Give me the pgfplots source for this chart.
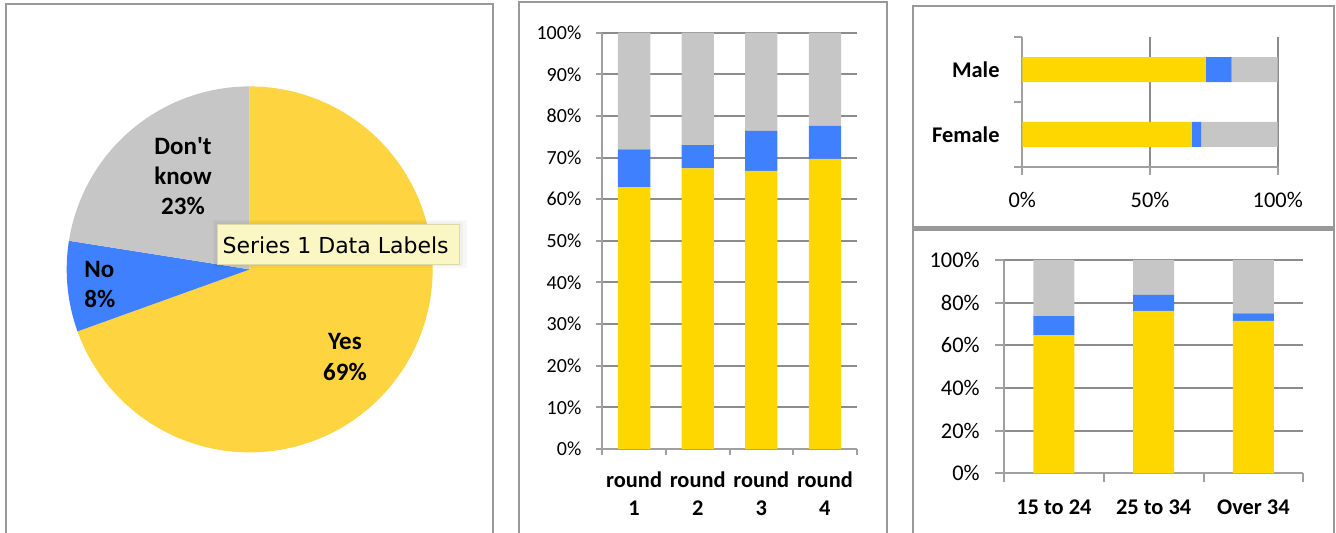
\documentclass[border=0pt]{standalone}
\usepackage{pgfplots}
\pgfplotsset{compat=1.18}
\usepackage{pgfplotstable}
\usepackage{fontspec}
\setmainfont{Carlito}
\newfontfamily\tipfont{DejaVu Sans}
\definecolor{ybar}{HTML}{FFD700}
\definecolor{ypie}{HTML}{FED440}
\definecolor{bblue}{HTML}{3F80FF}
\definecolor{ggrey}{HTML}{C6C6C6}
\definecolor{gridc}{HTML}{8C8C8C}
\definecolor{axisc}{HTML}{A0A0A0}
\definecolor{framec}{HTML}{999999}
\definecolor{tipfill}{HTML}{FBF7C4}
\definecolor{tipdraw}{HTML}{DDD9A8}

% round 1..4 : Yes / No / Don't know (%)
\pgfplotstableread{
cat yes no dk
0 62.9 9.1 28.0
1 67.4 5.6 27.0
2 66.8 9.6 23.6
3 69.7 7.9 22.4
}\rounds
% Female (0), Male (1)
\pgfplotstableread{
cat yes no dk
0 66.3 3.7 30.0
1 71.8 10.2 18.0
}\gender
% 15 to 24, 25 to 34, Over 34
\pgfplotstableread{
cat yes no dk
0 64.8 8.9 26.3
1 76.1 7.5 16.4
2 71.5 3.5 25.0
}\age
% pie: Yes / No / Don't know
\def\pyes{69.5}
\def\pno{8.0}
\def\pdk{22.5}

\pgfplotsset{
  panel/.style={
    scale only axis, anchor=south west,
    axis x line*=bottom, axis y line*=left,
    axis line style={axisc, line width=1pt},
    tick style={axisc, line width=1pt},
    tick align=outside,
    major grid style={gridc, line width=1pt},
  },
}

\begin{document}
\begin{tikzpicture}
\useasboundingbox (0,0) rectangle (668pt,-266.5pt);
\begin{scope}[x=0.5pt,y=-0.5pt]
  \draw[framec, line width=1.1pt] (6,4) rectangle (493.3,560);
  \draw[framec, line width=1.1pt] (519.3,2) rectangle (886.7,560);
  \draw[framec, line width=1.1pt] (912.7,5.7) rectangle (1334,227);
  \draw[framec, line width=1.1pt] (912.7,229.5) rectangle (1334,560);
\end{scope}

% ---------- pie ----------
\pgfmathsetmacro\aA{90-3.6*\pyes}
\pgfmathsetmacro\aB{\aA-3.6*\pno}
\pgfmathsetmacro\aC{\aB-3.6*\pdk}
\begin{axis}[at={(124.85pt,-134.7pt)}, anchor=center, scale only axis,
  width=183pt, height=183pt, xmin=-1, xmax=1, ymin=-1, ymax=1, hide axis]
  \addplot[draw=none, fill=ypie, domain=\aA:90, samples=150] ({cos(x)},{sin(x)}) -- (axis cs:0,0) -- cycle;
  \addplot[draw=none, fill=bblue, domain=\aB:\aA, samples=30] ({cos(x)},{sin(x)}) -- (axis cs:0,0) -- cycle;
  \addplot[draw=none, fill=ggrey, domain=\aC:\aB, samples=80] ({cos(x)},{sin(x)}) -- (axis cs:0,0) -- cycle;
\end{axis}
\begin{scope}[x=0.5pt,y=-0.5pt, every node/.style={font=\bfseries\fontsize{12.5}{15}\selectfont, inner sep=0pt}]
  \node[align=center] at (183,176) {Don\textquotesingle t\\know\\23\%};
  \node[align=left, anchor=west] at (84,285) {No\\8\%};
  \node[align=center] at (345,357) {Yes\\69\%};
  % tooltip
  \fill[black, opacity=0.03] (213,220.4) rectangle (467,268.5);
  \fill[black, opacity=0.03] (215,222.4) rectangle (463,266.5);
  \fill[tipfill] (217,224.4) rectangle (459,264.5);
  \draw[tipdraw, line width=0.4pt] (217,224.4) rectangle (459,264.5);
  \node[anchor=west, font=\tipfont\fontsize{11}{13}\selectfont] at (222.3,245) {Series 1 Data Labels};
\end{scope}

% ---------- rounds ----------
\begin{axis}[panel, at={(301.15pt,-224.5pt)}, width=127.2pt, height=208.15pt,
  ybar stacked, bar width=16.15pt,
  xmin=-0.5, xmax=3.5, ymin=0, ymax=100,
  major tick length=3pt,
  xtick={-0.5,0.5,1.5,2.5,3.5}, xticklabels={},
  extra x ticks={0,1,2,3},
  extra x tick labels={round\\1,round\\2,round\\3,round\\4},
  extra x tick style={major tick length=0pt,
    xticklabel style={align=center, font=\bfseries\fontsize{11.2}{14.2}\selectfont, inner sep=0pt, yshift=-11.2pt}},
  ytick={0,10,20,30,40,50,60,70,80,90,100},
  yticklabels={0\%,10\%,20\%,30\%,40\%,50\%,60\%,70\%,80\%,90\%,100\%},
  yticklabel style={font=\fontsize{10}{12}\selectfont, inner sep=0pt},
  yticklabel shift=7.3pt,
  ymajorgrids]
  \addplot[fill=ybar, draw=none] table[x=cat, y=yes]{\rounds};
  \addplot[fill=bblue, draw=none] table[x=cat, y=no]{\rounds};
  \addplot[fill=ggrey, draw=none] table[x=cat, y=dk]{\rounds};
\end{axis}

% ---------- gender ----------
\begin{axis}[panel, at={(511.15pt,-83.35pt)}, width=127.7pt, height=64.7pt,
  xbar stacked, bar width=12.5pt,
  xmin=0, xmax=100, ymin=-0.5, ymax=1.5,
  major tick length=4pt,
  xtick={0,50,100}, xticklabels={0\%,50\%,100\%},
  xticklabel style={font=\fontsize{11.2}{13}\selectfont, inner sep=0pt},
  xticklabel shift=8.5pt,
  xmajorgrids,
  ytick={-0.5,0.5,1.5}, yticklabels={},
  extra y ticks={0,1}, extra y tick labels={Female,Male},
  extra y tick style={major tick length=0pt,
    yticklabel style={font=\bfseries\fontsize{11.2}{13}\selectfont, inner sep=0pt, xshift=-11.2pt}}]
  \addplot[fill=ybar, draw=none] table[x=yes, y=cat]{\gender};
  \addplot[fill=bblue, draw=none] table[x=no, y=cat]{\gender};
  \addplot[fill=ggrey, draw=none] table[x=dk, y=cat]{\gender};
\end{axis}

% ---------- age ----------
\begin{axis}[panel, at={(502pt,-236.65pt)}, width=149.65pt, height=106.65pt,
  ybar stacked, bar width=20.5pt,
  xmin=-0.5, xmax=2.5, ymin=0, ymax=100,
  major tick length=4.5pt,
  xtick={-0.5,0.5,1.5,2.5}, xticklabels={},
  extra x ticks={0,1,2},
  extra x tick labels={15 to 24,25 to 34,Over 34},
  extra x tick style={major tick length=0pt,
    xticklabel style={font=\bfseries\fontsize{11.2}{13}\selectfont, inner sep=0pt, yshift=-13pt}},
  ytick={0,20,40,60,80,100},
  yticklabels={0\%,20\%,40\%,60\%,80\%,100\%},
  yticklabel style={font=\fontsize{11.2}{13}\selectfont, inner sep=0pt},
  yticklabel shift=7.5pt,
  ymajorgrids]
  \addplot[fill=ybar, draw=none] table[x=cat, y=yes]{\age};
  \addplot[fill=bblue, draw=none] table[x=cat, y=no]{\age};
  \addplot[fill=ggrey, draw=none] table[x=cat, y=dk]{\age};
\end{axis}
\end{tikzpicture}
\end{document}
